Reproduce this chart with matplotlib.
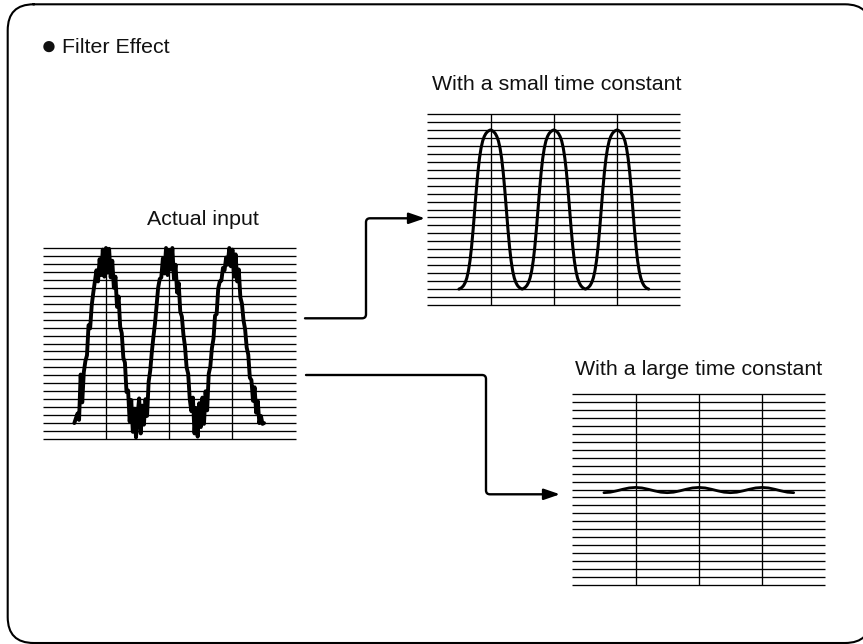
import numpy as np
import matplotlib
matplotlib.use("Agg")
import matplotlib.pyplot as plt
from matplotlib.path import Path
from matplotlib.patches import FancyArrowPatch, BoxStyle

# ---------------- data ----------------
title_text = "Filter Effect"
bullet_char = "\u25CF"
panel_titles = ["Actual input", "With a small time constant", "With a large time constant"]

grid_rows = list(range(25))     # horizontal chart-paper lines
grid_cols = [1, 2, 3]           # vertical division lines
x_start, x_end = 0.5, 3.5       # signal span in divisions

actual_input = [
    2.0, 2.6, 3.2, 2.4, 8.1, 4.6, 8.4, 9.8, 10.5, 14.3, 13.9, 16.8, 18.4, 19.8, 21.2,
    19.8, 22.6, 20.6, 23.8, 20.4, 24.0, 20.9, 23.9, 20.3, 22.4, 19.0, 20.4, 16.6, 17.9,
    14.1, 13.3, 10.2, 9.6, 5.9, 6.1, 2.2, 4.9, 0.9, 3.8, 0.2, 2.9,
    5.1, 0.7, 4.2, 1.8, 5.0, 2.9, 7.2, 8.6, 10.9, 12.8, 14.5, 16.7, 19.0, 20.1, 20.3,
    22.7, 20.8, 24.0, 20.6, 23.7, 21.3, 24.0, 20.1, 21.9, 18.4, 19.6, 16.0, 15.4, 13.1,
    11.6, 9.0, 8.2, 5.0, 3.5, 5.2, 0.7, 3.9, 0.3, 4.5, 1.5,
    5.2, 1.9, 6.0, 3.6, 8.2, 9.1, 11.4, 12.6, 15.5, 15.7, 18.9, 19.8, 19.9, 21.5, 21.2,
    22.8, 21.9, 24.0, 21.7, 23.8, 20.4, 23.2, 19.8, 21.3, 17.8, 17.0, 14.9, 13.8, 11.5,
    10.6, 7.7, 7.4, 4.8, 6.5, 3.3, 4.8, 2.0, 2.9, 1.9, 2.0,
]

small_time_constant = [
    2.00, 2.09, 2.23, 2.46, 2.83, 3.40, 4.28, 5.56, 7.32, 9.52, 12.00, 14.48, 16.68, 18.44,
    19.72, 20.60, 21.17, 21.54, 21.77, 21.91, 22.00,
    21.91, 21.77, 21.54, 21.17, 20.60, 19.72, 18.44, 16.68, 14.48, 12.00, 9.52, 7.32, 5.56,
    4.28, 3.40, 2.83, 2.46, 2.23, 2.09, 2.00,
    2.09, 2.23, 2.46, 2.83, 3.40, 4.28, 5.56, 7.32, 9.52, 12.00, 14.48, 16.68, 18.44,
    19.72, 20.60, 21.17, 21.54, 21.77, 21.91, 22.00,
    21.91, 21.77, 21.54, 21.17, 20.60, 19.72, 18.44, 16.68, 14.48, 12.00, 9.52, 7.32, 5.56,
    4.28, 3.40, 2.83, 2.46, 2.23, 2.09, 2.00,
    2.09, 2.23, 2.46, 2.83, 3.40, 4.28, 5.56, 7.32, 9.52, 12.00, 14.48, 16.68, 18.44,
    19.72, 20.60, 21.17, 21.54, 21.77, 21.91, 22.00,
    21.91, 21.77, 21.54, 21.17, 20.60, 19.72, 18.44, 16.68, 14.48, 12.00, 9.52, 7.32, 5.56,
    4.28, 3.40, 2.83, 2.46, 2.23, 2.09, 2.00,
]

large_time_constant = [
    11.60, 11.66, 11.83, 12.03, 12.20, 12.26, 12.20, 12.03, 11.83, 11.66,
    11.60, 11.66, 11.83, 12.03, 12.20, 12.26, 12.20, 12.03, 11.83, 11.66,
    11.60, 11.66, 11.83, 12.03, 12.20, 12.26, 12.20, 12.03, 11.83, 11.66,
    11.60,
]

# ---------------- layout ----------------
W, H = 863, 644
FONT = ["Liberation Sans", "DejaVu Sans"]
FS = 15.4
TXT = "#111111"

fig = plt.figure(figsize=(W / 100, H / 100), dpi=100)
bg = fig.add_axes([0, 0, 1, 1])
bg.set_xlim(0, W)
bg.set_ylim(H, 0)
bg.axis("off")

# rounded outer frame (flattened to line segments; right side runs off the canvas)
frame_path = BoxStyle("Round", pad=0, rounding_size=26)(7.7, 4.3, 871 - 7.7, 643 - 4.3, 1.0)
for poly in frame_path.to_polygons(closed_only=False):
    bg.plot(poly[:, 0], poly[:, 1], color="black", lw=1.5, solid_joinstyle="round")

# texts
bg.text(48.8, 47.0, bullet_char, family=FONT, fontsize=19, ha="center", va="center", color=TXT)
bg.text(61.7, 53.3, title_text, family=FONT, fontsize=FS, ha="left", va="baseline", color=TXT)
bg.text(203.3, 225, panel_titles[0], family=FONT, fontsize=FS, ha="center", va="baseline", color=TXT)
bg.text(556.7, 90, panel_titles[1], family=FONT, fontsize=FS, ha="center", va="baseline", color=TXT)
bg.text(699, 375, panel_titles[2], family=FONT, fontsize=FS, ha="center", va="baseline", color=TXT)

# connector arrows
def elbow_arrow(pts_codes):
    verts = [p for p, c in pts_codes]
    codes = [c for p, c in pts_codes]
    arr = FancyArrowPatch(path=Path(verts, codes),
                          arrowstyle="-|>,head_length=0.96,head_width=0.33",
                          mutation_scale=10, lw=1.7, color="black",
                          transform=bg.transData, clip_on=False)
    bg.add_patch(arr)

M, L, C = Path.MOVETO, Path.LINETO, Path.CURVE3
r = 4
elbow_arrow([((305, 318.3), M), ((366 - r, 318.3), L), ((366, 318.3), C), ((366, 318.3 - r), C),
             ((366, 218.3 + r), L), ((366, 218.3), C), ((366 + r, 218.3), C), ((425, 218.3), L)])
elbow_arrow([((306, 375), M), ((486 - r, 375), L), ((486, 375), C), ((486, 375 + r), C),
             ((486, 494.3 - r), L), ((486, 494.3), C), ((486 + r, 494.3), C), ((560, 494.3), L)])

# ---------------- panels ----------------
PW, PH = 253, 191

def make_panel(left, top):
    ax = fig.add_axes([left / W, 1 - (top + PH) / H, PW / W, PH / H])
    ax.set_xlim(0, 4)
    ax.set_ylim(0, 24)
    ax.axis("off")
    ax.hlines(grid_rows, 0, 4, colors="black", lw=0.95, clip_on=False, zorder=1)
    ax.vlines(grid_cols, 0, 24, colors="black", lw=0.95, clip_on=False, zorder=1)
    return ax

ax1 = make_panel(42.7, 248)
ax2 = make_panel(427.3, 114)
ax3 = make_panel(572.3, 394)

def draw_signal(ax, values, lw):
    x = np.linspace(x_start, x_end, len(values))
    ax.plot(x, values, color="black", lw=lw, solid_joinstyle="round",
            solid_capstyle="round", clip_on=False, zorder=3)

draw_signal(ax1, actual_input, 2.8)
draw_signal(ax2, small_time_constant, 2.2)
draw_signal(ax3, large_time_constant, 2.0)

fig.savefig("out.png", dpi=100)
